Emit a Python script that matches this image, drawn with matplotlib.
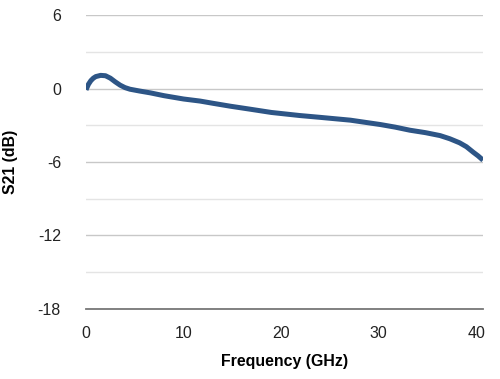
import numpy as np
import matplotlib.pyplot as plt

plt.rcParams['font.family'] = ['Liberation Sans', 'DejaVu Sans']
plt.rcParams['axes.unicode_minus'] = False

# S21
freq = [0, 0.25, 0.5, 0.75, 1.0, 1.5, 2.0, 2.5, 3.0, 3.5, 4.0, 4.5, 5.5,
        6.6, 8.0, 10.0, 11.7, 13.0, 14.8, 16.8, 19.0, 21.9, 24.0, 27.1,
        30.2, 31.7, 33.2, 34.8, 36.3, 37.3, 38.3, 39.0, 39.7, 40.2, 40.7]
s21 = [-0.1, 0.35, 0.65, 0.85, 0.98, 1.08, 1.05, 0.85, 0.55, 0.28, 0.08,
       -0.05, -0.2, -0.35, -0.58, -0.85, -1.02, -1.2, -1.44, -1.68, -1.95,
       -2.2, -2.35, -2.58, -2.94, -3.15, -3.4, -3.6, -3.84, -4.1, -4.43,
       -4.75, -5.2, -5.5, -5.85]

x_ticks = [0, 10, 20, 30, 40]
y_ticks = [-18, -12, -6, 0, 6]

fig = plt.figure(figsize=(5, 3.79), dpi=100)
ax = fig.add_axes([0.172, 0.185, 0.794, 0.775])

ax.plot(freq, s21, color='#2d5586', linewidth=3.6, solid_capstyle='butt',
        solid_joinstyle='round', zorder=3)

ax.set_xlim(0, 40.7)
ax.set_ylim(-18, 6)
ax.set_xticks(x_ticks)
ax.set_yticks(y_ticks)
ax.set_yticks([-15, -9, -3, 3], minor=True)

ax.grid(True, which='major', axis='y', color='#c8c8c8', linewidth=1.0)
ax.grid(True, which='minor', axis='y', color='#e4e4e4', linewidth=1.0)
ax.set_axisbelow(True)

for s in ['top', 'right', 'left']:
    ax.spines[s].set_visible(False)
ax.spines['bottom'].set_color('#777777')
ax.spines['bottom'].set_linewidth(1.3)

ax.tick_params(axis='both', which='both', length=0, labelsize=11.5,
               labelcolor='#222222')
ax.tick_params(axis='y', pad=18)
ax.tick_params(axis='x', pad=12)

ax.set_xlabel('Frequency (GHz)', fontsize=11.4, fontweight='bold', labelpad=10)
ax.set_ylabel('S21 (dB)', fontsize=11.4, fontweight='bold', labelpad=14)

fig.savefig('out.png', dpi=100)
